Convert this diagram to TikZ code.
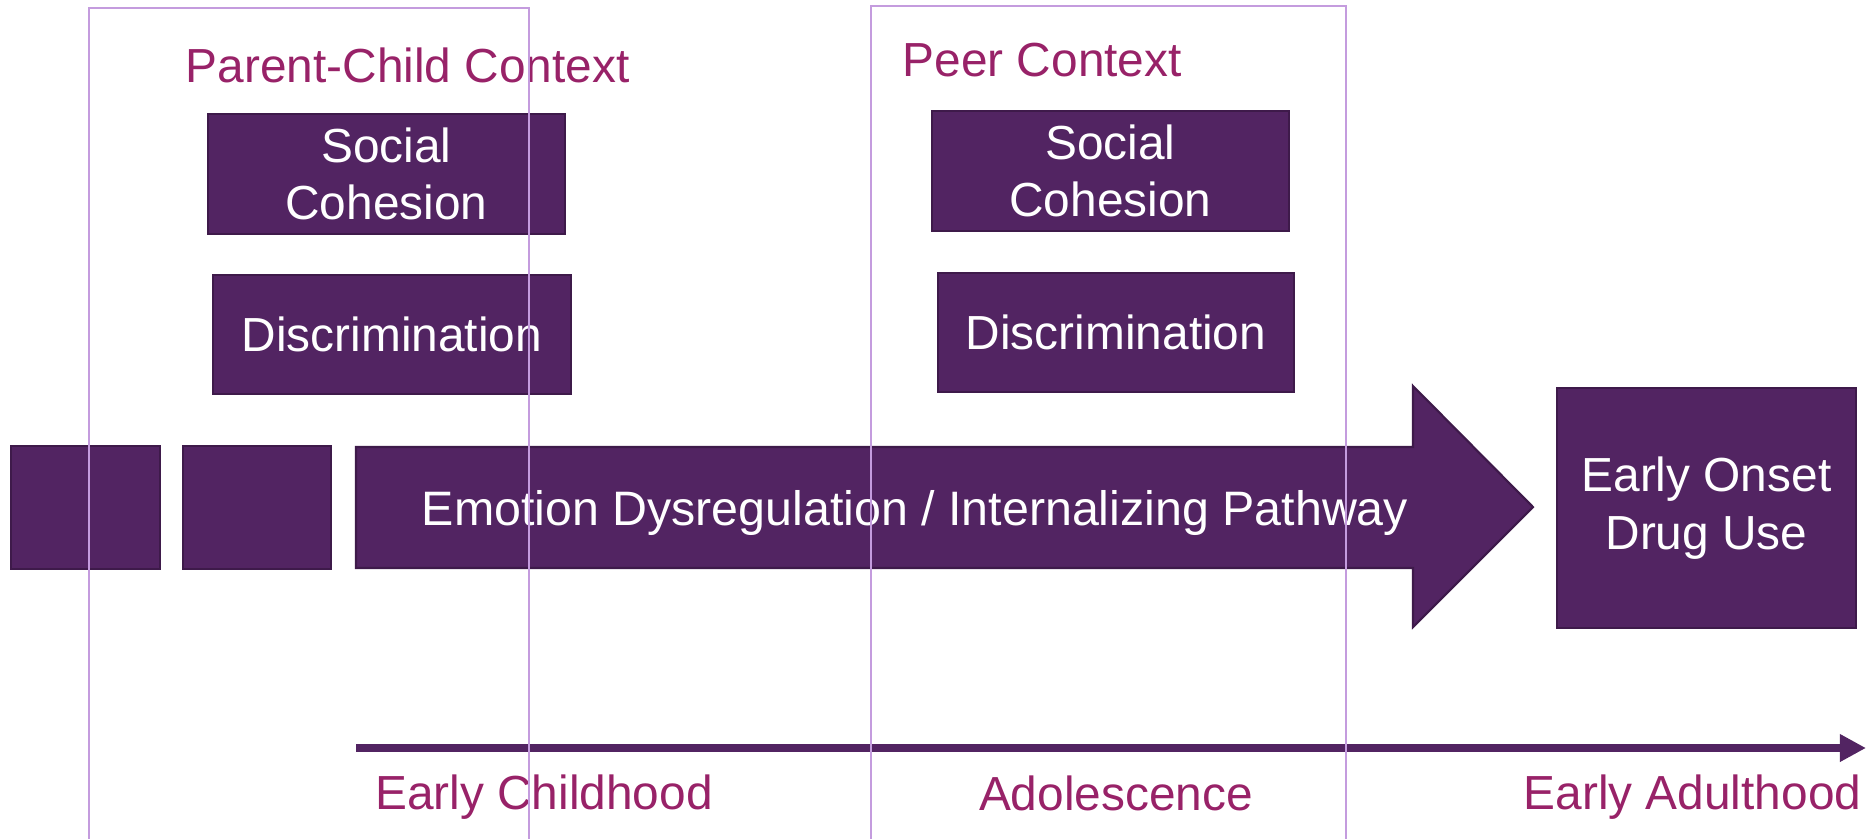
\documentclass[tikz,border=0pt]{standalone}
\usepackage{fontspec}
\setmainfont{Liberation Sans}
\usepackage{tikz}
\usetikzlibrary{arrows.meta, positioning, calc}
\definecolor{boxfill}{RGB}{82,36,98}
\definecolor{boxline}{RGB}{62,26,74}
\definecolor{framecol}{RGB}{196,156,222}
\definecolor{labelcol}{RGB}{152,34,104}
\tikzstyle{purplebox} = [rectangle, draw=boxline, line width=0.6pt, fill=boxfill, text=white,
                         align=center, inner sep=0pt, font=\fontsize{13.6}{16.3}\selectfont]
\tikzstyle{arrow} = [line width=2.3pt, draw=boxfill, -{Triangle[length=0.26cm, width=0.26cm]}]

\begin{document}
\begin{tikzpicture}[
    x=0.01cm, y=-0.01cm,
    titletext/.style={text=labelcol, inner sep=0pt, font=\fontsize{13.6}{16.3}\selectfont},
    contextframe/.style={draw=framecol, line width=0.8pt},
]
\useasboundingbox (0,0) rectangle (1868,839);
\clip (0,0) rectangle (1868,839);

% Context titles
\node[titletext, anchor=west] (pctitle) at (185, 65) {Parent-Child Context};
\node[titletext, anchor=west] (peertitle) at (902, 60) {Peer Context};

% Parent-child context factors
\node[purplebox, minimum width=3.57cm, minimum height=1.2cm] (pcsocial) at (386.5, 174) {Social\\Cohesion};
\node[purplebox, minimum width=3.58cm, minimum height=1.19cm] (pcdisc) at (392, 334.5) {Discrimination};

% Peer context factors
\node[purplebox, minimum width=3.57cm, minimum height=1.2cm] (peersocial) at (1110.5, 171) {Social\\Cohesion};
\node[purplebox, minimum width=3.56cm, minimum height=1.19cm] (peerdisc) at (1116, 332.5) {Discrimination};

% Pathway squares
\node[purplebox, minimum width=1.49cm, minimum height=1.23cm] (sqone) at (85.5, 507.5) {};
\node[purplebox, minimum width=1.48cm, minimum height=1.23cm] (sqtwo) at (257, 507.5) {};

% Pathway arrow
\filldraw[fill=boxfill, draw=boxline, line width=0.6pt]
    (356, 447) -- (1413, 447) -- (1413, 386) -- (1533, 507)
    -- (1413, 627) -- (1413, 568) -- (356, 568) -- cycle;
\node[text=white, inner sep=0pt, font=\fontsize{13.75}{16.3}\selectfont] (pathway) at (915, 513)
    {Emotion Dysregulation / Internalizing Pathway};

% Outcome
\node[purplebox, minimum width=2.99cm, minimum height=2.4cm] (onset) at (1706.5, 508) {Early Onset\\Drug Use};

% Timeline
\coordinate (tlstart) at (356, 748);
\coordinate (tlend) at (1866, 748);
\draw[arrow] (tlstart) -- (tlend);
\node[titletext] (childhood) at (544, 797) {Early Childhood};
\node[titletext] (adolescence) at (1116, 793) {Adolescence};
\node[titletext, anchor=east] (adulthood) at (1862, 797) {Early Adulthood};

% Context frames
\draw[contextframe] (89, 860) -- (89, 8) -- (529, 8) -- (529, 860);
\draw[contextframe] (871, 860) -- (871, 6) -- (1346, 6) -- (1346, 860);

\end{tikzpicture}
\end{document}
